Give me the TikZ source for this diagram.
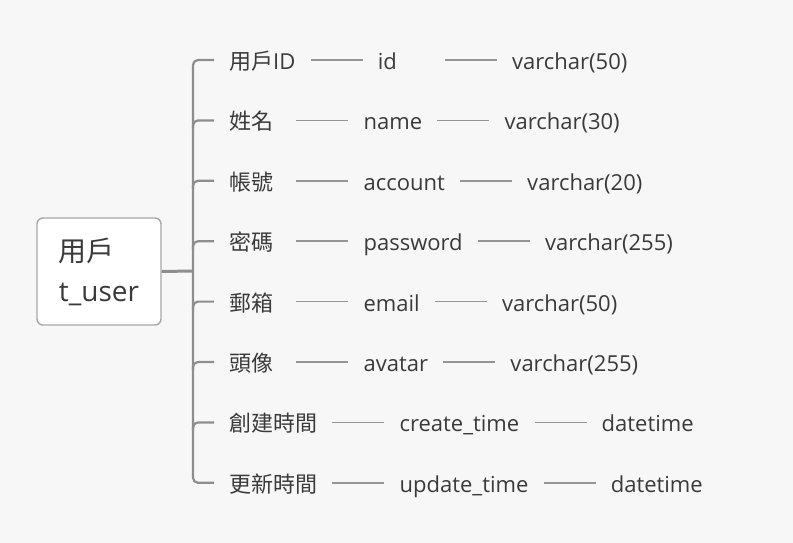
\documentclass[tikz,border=0pt]{standalone}
\usepackage{fontspec}
\setmainfont{Open Sans}
\newfontfamily\cjk{Noto Sans CJK TC}
\usetikzlibrary{positioning}
\definecolor{bgcol}{HTML}{F7F7F7}
\definecolor{txtcol}{HTML}{3A3A3A}
\definecolor{linecol}{HTML}{8E8E8E}
\definecolor{linkcol}{HTML}{959595}
\definecolor{boxcol}{HTML}{A8A8A8}
% text of a field, at least 52pt wide, set flush left
\newcommand\fieldtext[1]{\setbox0\hbox{#1}%
  \ifdim\wd0<52pt\makebox[52pt][l]{\box0}\else\box0\fi}
\tikzset{
  field/.style={inner xsep=15pt, inner ysep=0pt, text height=24pt, text depth=5pt,
    text=txtcol, font=\fontsize{22}{26}\selectfont},
  link/.style={draw=linkcol, line width=1.6pt},
  branch/.style={draw=linecol, line width=2.2pt, rounded corners=5pt},
  table/.style={draw=boxcol, line width=1.4pt, fill=white, rounded corners=6pt,
    minimum width=124pt, minimum height=107pt, align=left, text=txtcol,
    font=\fontsize{28}{40}\selectfont},
}

\begin{document}
\begin{tikzpicture}[x=1pt, y=-1pt]

  \fill [bgcol] (0,0) rectangle (793,543);
  \useasboundingbox (0,0) rectangle (793,543);

  % table node
  \node [table] (user) at (99,271.5) {{\cjk 用戶}\\t\_user};
  \draw [branch, line width=3pt] (user.east) -- (193,271) coordinate (hub);

  % one row per column: label -- name -- type
  \foreach \i/\lbl/\col/\typ in {
      1/{{\cjk 用戶}ID}/id/varchar(50),
      2/{\cjk 姓名}/name/varchar(30),
      3/{\cjk 帳號}/account/varchar(20),
      4/{\cjk 密碼}/password/varchar(255),
      5/{\cjk 郵箱}/email/varchar(50),
      6/{\cjk 頭像}/avatar/varchar(255),
      7/{\cjk 創建時間}/create\_time/datetime,
      8/{\cjk 更新時間}/update\_time/datetime} {
    \node [field, anchor=west] (lbl\i) at (214, {60+(\i-1)*60.4}) {\fieldtext{\lbl}};
    \node [field, right=52pt of lbl\i] (col\i) {\fieldtext{\col}};
    \node [field, right=52pt of col\i] (typ\i) {\fieldtext{\typ}};
    \draw [link] (lbl\i) -- (col\i);
    \draw [link] (col\i) -- (typ\i);
  }

  % bracket
  \draw [branch] (lbl1.west) -| (hub) |- (lbl8.west);
  \foreach \i in {2,...,7}
    \draw [branch] ([yshift=-8pt]hub |- lbl\i) |- (lbl\i.west);

\end{tikzpicture}
\end{document}
